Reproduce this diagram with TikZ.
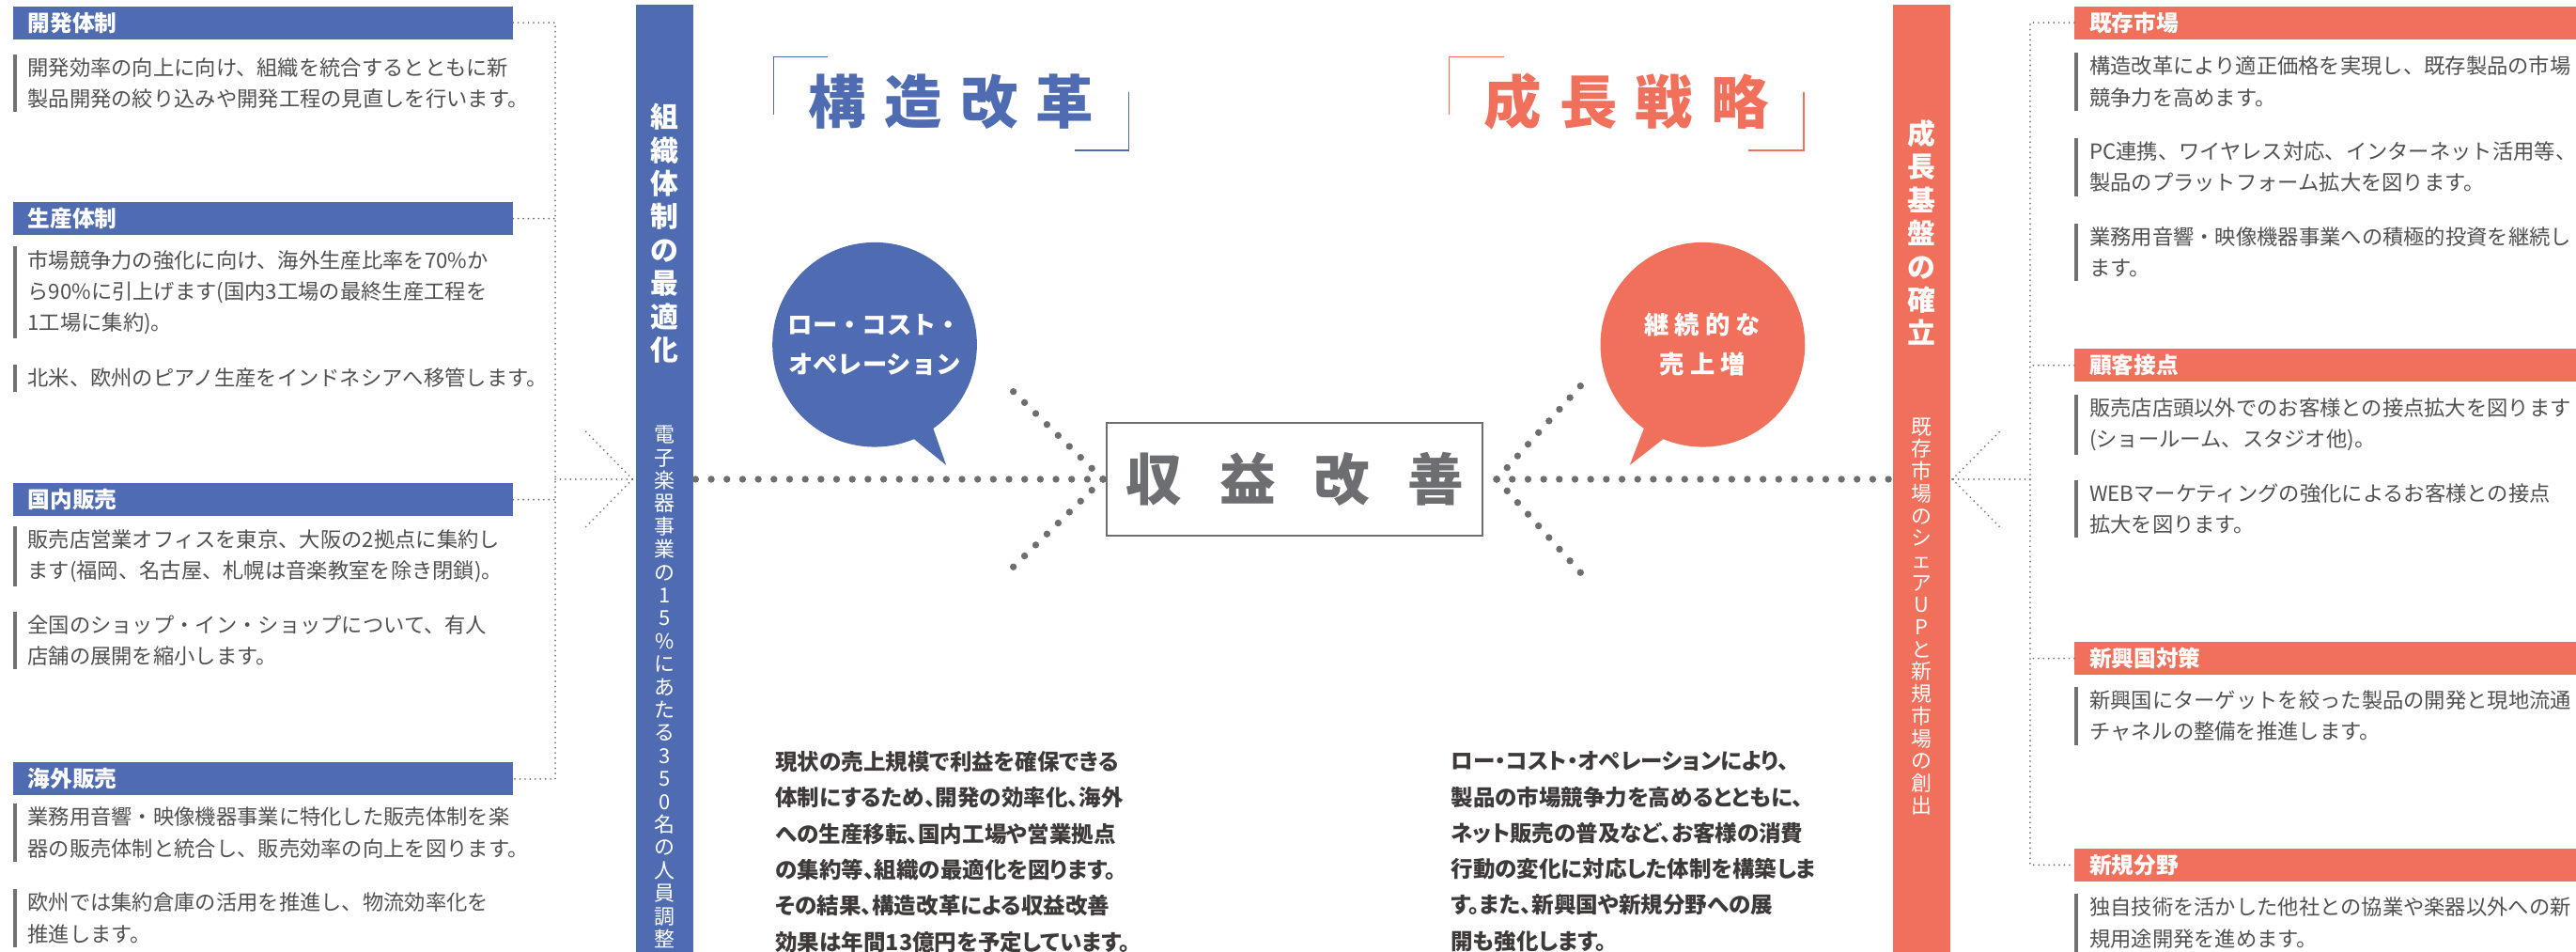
\documentclass[tikz,border=0pt]{standalone}
\usepackage{fontspec}
\setmainfont{Noto Sans CJK JP}
\newfontfamily\paltfont[RawFeature=+palt]{Noto Sans CJK JP}

\definecolor{kblue}{HTML}{4F6BB2}
\definecolor{korange}{HTML}{F1705B}
\definecolor{txtgray}{HTML}{505050}
\definecolor{darktxt}{HTML}{3E3A39}
\definecolor{dotgray}{HTML}{6D6E71}
\definecolor{bargray}{HTML}{727171}

\begin{document}
\begin{tikzpicture}[x=0.035cm,y=-0.035cm,
  hdr/.style={fill=#1,anchor=west,minimum height=20pt,inner xsep=9pt,inner ysep=0pt,
    text width=285pt,align=left,text=white,font=\bfseries\fontsize{13.5}{14}\selectfont},
  para/.style={anchor=north west,align=left,inner xsep=7.6pt,inner ysep=2pt,
    text=txtgray,font=\fontsize{12.7}{19}\selectfont},
  pbar/.style={draw=bargray,line width=2.2pt},
  midtext/.style={anchor=north west,align=left,inner sep=0pt,text=darktxt,
    font=\paltfont\bfseries\fontsize{13.4}{21.8}\selectfont},
  vbar/.style={fill=#1,minimum width=35pt,minimum height=582pt,inner sep=0pt},
  vbold/.style={align=center,text=white,inner sep=0pt,font=\bfseries\fontsize{17}{20.2}\selectfont},
  vthin/.style={align=center,text=white,inner sep=0pt,font=\fontsize{12.5}{#1}\selectfont},
  bubble/.style={circle,fill=#1,minimum size=124pt,inner sep=0pt,align=center,text=white,
    font=\bfseries\fontsize{15}{24}\selectfont},
  title/.style={inner sep=0pt,font=\bfseries\fontsize{35}{35}\selectfont},
  bracket/.style={draw=#1,line width=0.9pt},
  thindots/.style={draw=dotgray,line width=1.1pt,line cap=round,dash pattern=on 0pt off 3.1pt},
  bigdots/.style={draw=dotgray,line width=4.2pt,line cap=round,dash pattern=on 0pt off 9.5pt}]

\useasboundingbox (0,0) rectangle (1568,579);

% left column
\node[hdr=kblue] (kaihatsu) at (7.7,13.8) {開発体制};
\node[hdr=kblue] (seisan) at (7.7,133) {生産体制};
\node[hdr=kblue] (kokunai) at (7.7,304) {国内販売};
\node[hdr=kblue] (kaigai) at (7.7,474) {海外販売};

\node[para] (pA1) at (9,33) {開発効率の向上に向け、組織を統合するとともに新\\製品開発の絞り込みや開発工程の見直しを行います。};
\node[para] (pB1) at (9,150) {市場競争力の強化に向け、海外生産比率を70\%か\\ら90\%に引上げます(国内3工場の最終生産工程を\\1工場に集約)。};
\node[para] (pB2) at (9,222) {北米、欧州のピアノ生産をインドネシアへ移管します。};
\node[para] (pC1) at (9,320) {販売店営業オフィスを東京、大阪の2拠点に集約し\\ます(福岡、名古屋、札幌は音楽教室を除き閉鎖)。};
\node[para] (pC2) at (9,372) {全国のショップ・イン・ショップについて、有人\\店舗の展開を縮小します。};
\node[para] (pD1) at (9,489) {業務用音響・映像機器事業に特化した販売体制を楽\\器の販売体制と統合し、販売効率の向上を図ります。};
\node[para] (pD2) at (9,541) {欧州では集約倉庫の活用を推進し、物流効率化を\\推進します。};
\foreach \p in {pA1,pB1,pB2,pC1,pC2,pD1,pD2}
  \draw[pbar] (\p.north west) -- (\p.south west);

% right column
\node[hdr=korange,text width=288pt] (kizon) at (1262.6,13.8) {既存市場};
\node[hdr=korange,text width=288pt] (kokyaku) at (1262.6,222.3) {顧客接点};
\node[hdr=korange,text width=288pt] (shinkoku) at (1262.6,400.6) {新興国対策};
\node[hdr=korange,text width=288pt] (shinki) at (1262.6,526.3) {新規分野};

\node[para] (qA1) at (1264,32) {構造改革により適正価格を実現し、既存製品の市場\\競争力を高めます。};
\node[para] (qA2) at (1264,84) {PC連携、ワイヤレス対応、インターネット活用等、\\製品のプラットフォーム拡大を図ります。};
\node[para] (qA3) at (1264,136) {業務用音響・映像機器事業への積極的投資を継続し\\ます。};
\node[para] (qB1) at (1264,240) {販売店店頭以外でのお客様との接点拡大を図ります\\(ショールーム、スタジオ他)。};
\node[para] (qB2) at (1264,292) {WEBマーケティングの強化によるお客様との接点\\拡大を図ります。};
\node[para] (qC1) at (1264,418) {新興国にターゲットを絞った製品の開発と現地流通\\チャネルの整備を推進します。};
\node[para] (qD1) at (1264,544) {独自技術を活かした他社との協業や楽器以外への新\\規用途開発を進めます。};
\foreach \p in {qA1,qA2,qA3,qB1,qB2,qC1,qD1}
  \draw[pbar] (\p.north west) -- (\p.south west);

% vertical bars
\node[vbar=kblue] (soshiki) at (404.6,294.8) {};
\node[vbar=korange] (seicho) at (1169.6,294.8) {};
\node[vbold] (soshikiT) at (soshiki |- 0,142) {組\\織\\体\\制\\の\\最\\適\\化};
\node[vthin=13.9] (soshikiS) at (soshiki |- 0,418) {電\\子\\楽\\器\\事\\業\\の\\1\\5\\\%\\に\\あ\\た\\る\\3\\5\\0\\名\\の\\人\\員\\調\\整};
\node[vbold] (seichoT) at (seicho |- 0,141.5) {成\\長\\基\\盤\\の\\確\\立};
\node[vthin=13.5] (seichoS) at (seicho |- 0,375) {既\\存\\市\\場\\の\\シ\\ェ\\ア\\U\\P\\と\\新\\規\\市\\場\\の\\創\\出};

% titles
\draw[bracket=kblue] (504,34.7) -- (471,34.7) -- (471,69.6);
\draw[bracket=kblue] (687,56) -- (687,91.5) -- (654,91.5);
\node[title,text=kblue] (kozo) at (579,62) {構\hspace{11pt}造\hspace{11pt}改\hspace{11pt}革};
\draw[bracket=korange] (915.7,34.7) -- (882,34.7) -- (882,69.6);
\draw[bracket=korange] (1098,56) -- (1098,91.5) -- (1064,91.5);
\node[title,text=korange] (senryaku) at (990,62) {成\hspace{11pt}長\hspace{11pt}戦\hspace{11pt}略};

% bubbles
\fill[kblue] (550,262) -- (575.9,283) -- (565,252) -- cycle;
\node[bubble=kblue] (lowcost) at (532.4,209.7) {ロー・コスト・\\オペレーション};
\fill[korange] (1019,262) -- (992,283) -- (1004,252) -- cycle;
\node[bubble=korange] (uriage) at (1036.4,209.7) {継\hspace{3.5pt}続\hspace{3.5pt}的\hspace{3.5pt}な\\売\hspace{3.5pt}上\hspace{3.5pt}増};

% center
\node[draw=dotgray,line width=1pt,minimum width=228pt,minimum height=68.7pt,inner sep=0pt,
  text=dotgray,font=\bfseries\fontsize{34}{34}\selectfont] (shueki) at (788,291.6)
  {収\hspace{23pt}益\hspace{23pt}改\hspace{23pt}善};

\coordinate (lmeet) at (671.4,291.6);
\coordinate (rmeet) at (911,291.6);
\draw[bigdots] (lmeet) -- (lmeet -| soshiki.east);
\draw[bigdots] (lmeet) -- ++(-60.4,-59);
\draw[bigdots] (lmeet) -- ++(-60.4,59);
\draw[bigdots] (rmeet) -- (rmeet -| seicho.west);
\draw[bigdots] (rmeet) -- ++(53,-59);
\draw[bigdots] (rmeet) -- ++(53,59);

% connectors
\coordinate (lspine) at (338,0);
\draw[thindots] (kaihatsu.east) -| (lspine |- kaigai.east) -- (kaigai.east);
\draw[thindots] (seisan.east) -- (seisan.east -| lspine);
\draw[thindots] (kokunai.east) -- (kokunai.east -| lspine);
\coordinate (larrow) at (385,291.6);
\draw[thindots] (lspine |- larrow) -- (larrow);
\draw[thindots] (larrow) -- ++(-29,-29.6);
\draw[thindots] (larrow) -- ++(-29,29.6);

\coordinate (rspine) at (1235.7,0);
\draw[thindots] (kizon.west) -| (rspine |- shinki.west) -- (shinki.west);
\draw[thindots] (kokyaku.west) -- (kokyaku.west -| rspine);
\draw[thindots] (shinkoku.west) -- (shinkoku.west -| rspine);
\coordinate (rarrow) at (1188.4,291.6);
\draw[thindots] (rspine |- rarrow) -- (rarrow);
\draw[thindots] (rarrow) -- ++(29.4,-29.6);
\draw[thindots] (rarrow) -- ++(29.4,29.6);

% bottom texts
\node[midtext] (kozoText) at (471.8,457) {現状の売上規模で利益を確保できる\\体制にするため、開発の効率化、海外\\への生産移転、国内工場や営業拠点\\の集約等、組織の最適化を図ります。\\その結果、構造改革による収益改善\\効果は年間13億円を予定しています。};
\node[midtext] (seichoText) at (883,457) {ロー・コスト・オペレーションにより、\\製品の市場競争力を高めるとともに、\\ネット販売の普及など、お客様の消費\\行動の変化に対応した体制を構築しま\\す。また、新興国や新規分野への展\\開も強化します。};
\end{tikzpicture}
\end{document}
